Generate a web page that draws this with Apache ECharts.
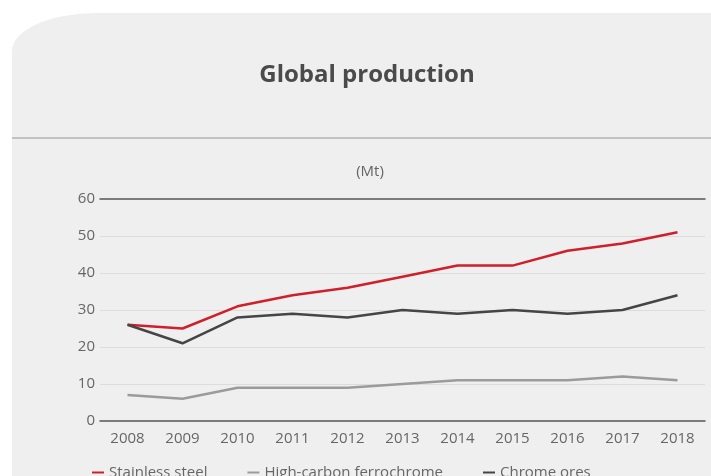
<!DOCTYPE html>
<html>
<head>
<meta charset="utf-8">
<script src="https://cdn.jsdelivr.net/npm/echarts@6/dist/echarts.min.js"></script>
<style>
  html, body { margin: 0; padding: 0; background: #ffffff; }
  #wrap { position: relative; width: 711px; height: 476px; overflow: hidden; }
  #panel {
    position: absolute; left: 12px; top: 13px; right: 0; bottom: 0;
    background: #efefef;
    border-top-left-radius: 84px 38px;
  }
  #chart { position: absolute; left: 0; top: 0; width: 711px; height: 476px; }
</style>
</head>
<body>
<div id="wrap">
  <div id="panel"></div>
  <div id="chart"></div>
</div>
<script>
// Years on the horizontal axis
const years = ['2008', '2009', '2010', '2011', '2012', '2013', '2014', '2015', '2016', '2017', '2018'];

// Global production, million tonnes
const stainlessSteel = [26, 25, 31, 34, 36, 39, 42, 42, 46, 48, 51];
const highCarbonFerrochrome = [7, 6, 9, 9, 9, 10, 11, 11, 11, 12, 11];
const chromeOres = [26, 21, 28, 29, 28, 30, 29, 30, 29, 30, 34];

// Value axis ticks
const yTicks = [0, 10, 20, 30, 40, 50, 60];

const FONT = '"Open Sans", "Noto Sans", sans-serif';
const chart = echarts.init(document.getElementById('chart'), null, { renderer: 'canvas' });

const lineSeries = (name, data, color) => ({
  name,
  type: 'line',
  data,
  symbol: 'none',
  smooth: false,
  lineStyle: { color, width: 2.5 },
  itemStyle: { color },
  z: 5
});

chart.setOption({
  animation: false,
  backgroundColor: 'transparent',
  textStyle: { fontFamily: FONT },
  graphic: [
    {
      type: 'line',
      silent: true,
      shape: { x1: 12, y1: 138, x2: 711, y2: 138 },
      style: { stroke: '#b3b3b3', lineWidth: 1.5 }
    },
    {
      type: 'text',
      silent: true,
      style: {
        text: 'Global production',
        x: 367, y: 75,
        align: 'center', verticalAlign: 'middle',
        font: 'bold 24px ' + FONT,
        fill: '#4a4a4a'
      }
    },
    {
      type: 'text',
      silent: true,
      style: {
        text: '(Mt)',
        x: 370, y: 172,
        align: 'center', verticalAlign: 'middle',
        font: '15px ' + FONT,
        fill: '#666666'
      }
    }
  ],
  legend: {
    left: 87,
    top: 460,
    itemGap: 40,
    itemWidth: 12,
    itemHeight: 2,
    icon: 'rect',
    textStyle: { fontSize: 15, color: '#666666', fontFamily: FONT },
    data: ['Stainless steel', 'High-carbon ferrochrome', 'Chrome ores']
  },
  grid: { left: 100, right: 6, top: 199, bottom: 55, containLabel: false },
  xAxis: [
    {
      type: 'category',
      data: years,
      boundaryGap: true,
      axisLine: { show: true, lineStyle: { color: '#555555', width: 1.5 } },
      axisTick: { show: false },
      axisLabel: { color: '#666666', fontSize: 15, margin: 10, fontFamily: FONT },
      splitLine: { show: false }
    },
    {
      type: 'category',
      data: years,
      position: 'top',
      boundaryGap: true,
      axisLine: { show: true, lineStyle: { color: '#555555', width: 1.5 } },
      axisTick: { show: false },
      axisLabel: { show: false },
      splitLine: { show: false }
    }
  ],
  yAxis: {
    type: 'value',
    min: yTicks[0],
    max: yTicks[yTicks.length - 1],
    interval: 10,
    axisLine: { show: false },
    axisTick: { show: false },
    axisLabel: { color: '#666666', fontSize: 15, margin: 5, fontFamily: FONT },
    splitLine: {
      show: true,
      lineStyle: {
        color: ['transparent', '#dcdcdc', '#dcdcdc', '#dcdcdc', '#dcdcdc', '#dcdcdc', 'transparent'],
        width: 1.2
      }
    }
  },
  series: [
    lineSeries('Stainless steel', stainlessSteel, '#d01f2b'),
    lineSeries('High-carbon ferrochrome', highCarbonFerrochrome, '#9b9b9b'),
    lineSeries('Chrome ores', chromeOres, '#454545')
  ]
});
</script>
</body>
</html>
